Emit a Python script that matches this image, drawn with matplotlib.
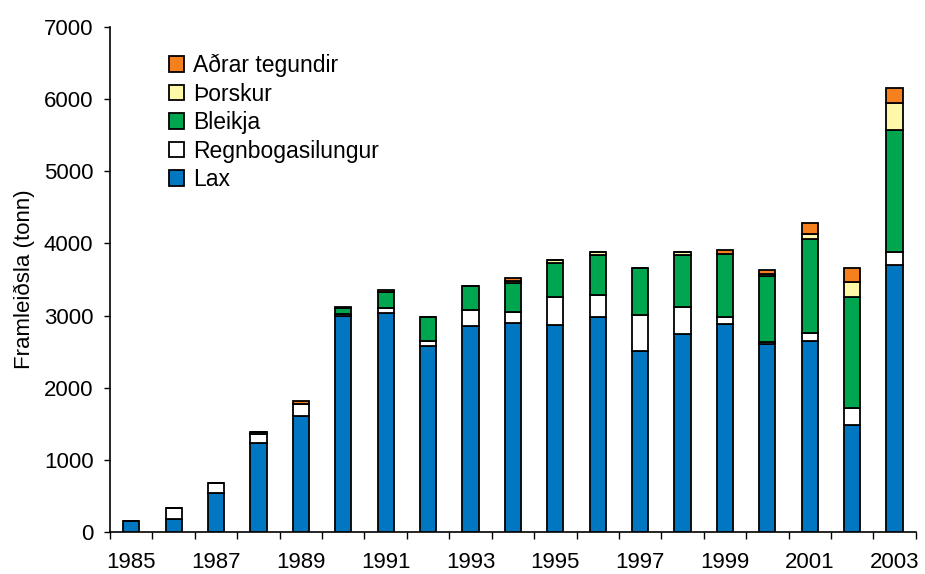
import numpy as np
import matplotlib.pyplot as plt
from matplotlib.ticker import FixedLocator, NullFormatter

plt.rcParams["font.family"] = ["Liberation Sans", "DejaVu Sans"]

years = list(range(1985, 2004))
lax = [150, 175, 540, 1235, 1610, 3000, 3030, 2580, 2850, 2900, 2870, 2980,
       2510, 2740, 2890, 2610, 2650, 1480, 3700]
regnboga = [0, 160, 135, 125, 160, 20, 70, 70, 225, 150, 385, 310,
            500, 380, 90, 30, 115, 245, 185]
bleikja = [0, 0, 0, 30, 10, 80, 225, 335, 340, 400, 470, 545,
           650, 725, 880, 905, 1300, 1535, 1685]
thorskur = [0, 0, 0, 0, 0, 0, 0, 0, 0, 35, 40, 40,
            0, 30, 0, 30, 70, 200, 380]
adrar = [0, 0, 0, 0, 40, 20, 25, 0, 0, 35, 8, 10,
         0, 0, 45, 60, 155, 200, 210]

series = [("Lax", lax, "#0077c0"),
          ("Regnbogasilungur", regnboga, "#ffffff"),
          ("Bleikja", bleikja, "#00a550"),
          ("Þorskur", thorskur, "#fff8a8"),
          ("Aðrar tegundir", adrar, "#f7801e")]

fig = plt.figure(figsize=(9.25, 5.74), dpi=100, facecolor="w")
ax = fig.add_axes([0.119, 0.073, 0.871, 0.880])

x = np.arange(len(years))
bottom = np.zeros(len(years))
for name, vals, col in series:
    vals = np.array(vals, dtype=float)
    ax.bar(x, vals, width=0.38, bottom=bottom, color=col, edgecolor="black",
           linewidth=1.3, label=name, zorder=3)
    bottom += vals

ax.set_xlim(-0.5, len(years) - 0.5)
ax.set_ylim(0, 7000)
ax.set_yticks(range(0, 7001, 1000))

# labels on every other year, tick marks between categories
ax.set_xticks(x[::2])
ax.set_xticklabels([str(y) for y in years[::2]])
ax.xaxis.set_minor_locator(FixedLocator(np.arange(-0.5, len(years), 1.0)))
ax.xaxis.set_minor_formatter(NullFormatter())
ax.tick_params(axis="x", which="major", length=0, labelsize=16, pad=14)
ax.tick_params(axis="x", which="minor", length=5, width=1.0)
ax.tick_params(axis="y", length=4, width=1.0, labelsize=16, pad=8)

for s in ["top", "right"]:
    ax.spines[s].set_visible(False)
for s in ["left", "bottom"]:
    ax.spines[s].set_linewidth(1.2)

ax.set_ylabel("Framleiðsla (tonn)", fontsize=16)
ax.yaxis.set_label_coords(-0.093, 0.5)

handles, labels = ax.get_legend_handles_labels()
ax.legend(handles[::-1], labels[::-1], loc="upper left",
          bbox_to_anchor=(0.062, 0.965), frameon=False, fontsize=16.5,
          handlelength=0.65, handleheight=0.65, handletextpad=0.4,
          labelspacing=0.24, borderaxespad=0)

plt.savefig("out.png", dpi=100, facecolor="w")
